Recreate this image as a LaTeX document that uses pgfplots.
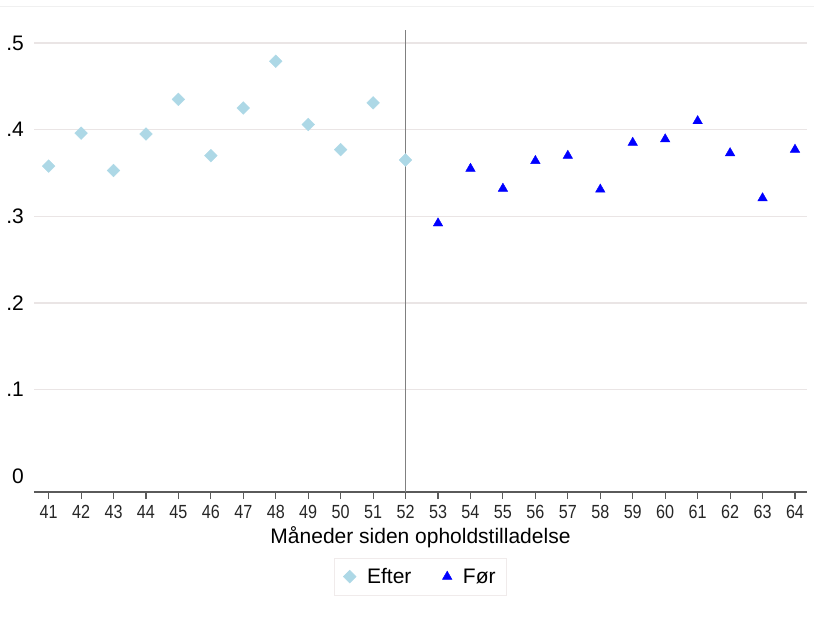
\documentclass[border=0pt]{standalone}
\usepackage{pgfplots}
\pgfplotsset{compat=1.18}
\usepackage{fontspec}
\setmainfont{Liberation Sans}
\newfontfamily\narrowfont[FakeStretch=0.85]{Liberation Sans}
\definecolor{gridc}{RGB}{234,229,229}
\definecolor{efterc}{RGB}{173,216,230}
\definecolor{axc}{RGB}{90,90,90}
\definecolor{vlc}{RGB}{128,128,128}
\definecolor{legc}{RGB}{240,235,235}
\definecolor{topc}{RGB}{240,240,240}
\begin{document}
\begin{tikzpicture}[x=1pt,y=1pt]
\begin{axis}[
  at={(34pt,130pt)}, anchor=south west,
  scale only axis, width=773pt, height=462pt,
  xmin=40.55, xmax=64.37, ymin=-0.018, ymax=0.515,
  axis x line*=bottom, axis y line*=left,
  y axis line style={draw=none},
  x axis line style={draw=axc, line width=1.3pt, -},
  xtick={41,...,64},
  xtick style={draw=axc, line width=1.1pt},
  major tick length=7pt,
  tick align=outside,
  x tick label style={font=\narrowfont\fontsize{19}{21}\selectfont, text=black!85, inner sep=2pt, yshift=-4pt},
  ytick={0.1,0.2,0.3,0.4,0.5},
  yticklabels={.1,.2,.3,.4,.5},
  extra y ticks={0}, extra y tick labels={0},
  extra y tick style={grid=none},
  ytick style={draw=none},
  y tick label style={font=\fontsize{21}{23}\selectfont, inner sep=3pt},
  ymajorgrids, grid style={draw=gridc, line width=1.3pt},
  /pgf/number format/assume math mode=true,
  xlabel={Måneder siden opholdstilladelse},
  xlabel style={font=\fontsize{21}{24}\selectfont, inner sep=0pt, yshift=-6pt},
  legend columns=2,
  legend style={at={(0.5,-0.143)}, anchor=north, draw=legc,
    font=\fontsize{21}{24}\selectfont, inner xsep=9pt, inner ysep=8pt,
    /tikz/every odd column/.append style={column sep=9pt},
    /tikz/every even column/.append style={column sep=29pt}},
  legend cell align=left,
  clip=false,
]
\addplot[draw=vlc, line width=1.8pt, forget plot] coordinates {(52,-0.018) (52,0.515)};
\addplot[only marks, mark=square*, mark size=4.5pt, mark options={rotate=45, fill=efterc, draw=efterc}] coordinates {
(41,0.358) (42,0.396) (43,0.353) (44,0.395) (45,0.435) (46,0.370)
(47,0.425) (48,0.479) (49,0.406) (50,0.377) (51,0.431) (52,0.365)};
\addlegendentry{Efter}
\addplot[only marks, mark=triangle*, mark size=5.5pt, mark options={fill=blue, draw=blue}] coordinates {
(53,0.292) (54,0.355) (55,0.332) (56,0.364) (57,0.370) (58,0.331)
(59,0.385) (60,0.389) (61,0.410) (62,0.373) (63,0.321) (64,0.377)};
\addlegendentry{Før}
\end{axis}
\draw[draw=topc, line width=1pt] (0,615) -- (814,615);
\pgfresetboundingbox
\path[use as bounding box] (0,0) rectangle (814,622);
\end{tikzpicture}
\end{document}
